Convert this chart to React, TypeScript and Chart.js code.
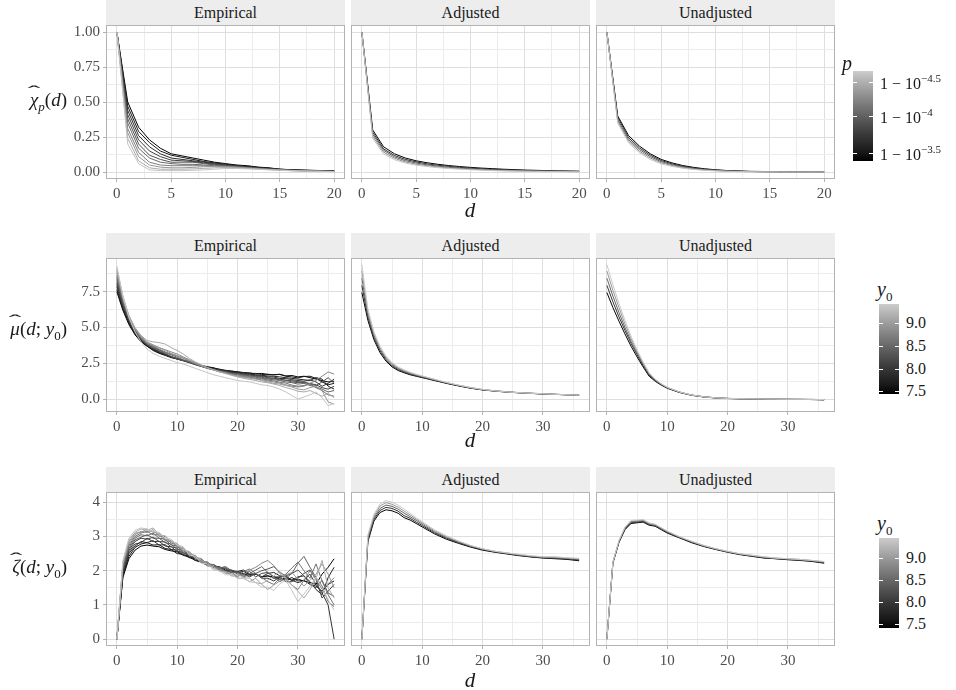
import React, { useEffect, useRef } from "react";
import { Chart, registerables } from "chart.js";
Chart.register(...registerables);

const FONT = '"Liberation Serif", "DejaVu Serif", serif';

// ---------- x values ----------
const dChi = [0, 1, 2, 3, 4, 5, 6, 7, 8, 9, 10, 11, 12, 13, 14, 15, 16, 17, 18, 19, 20];
const dFull = [0, 1, 2, 3, 4, 5, 6, 7, 8, 9, 10, 11, 12, 13, 14, 15, 16, 17, 18, 19, 20, 21, 22, 23, 24, 25, 26, 27, 28, 29, 30, 31, 32, 33, 34, 35, 36];
const dSparse = [0, 1, 2, 3, 4, 5, 6, 7, 8, 9, 10, 12, 14, 16, 18, 20, 22, 24, 26, 28, 30, 32, 34, 36];

// ---------- colour levels ----------
// -log10(1 - p) for the chi rows, y0 for the mu / zeta rows
const chiLevelsEmp = [3.4, 3.53, 3.66, 3.8, 3.93, 4.06, 4.2, 4.33, 4.46, 4.6];
const chiLevelsFit = [3.4, 3.7, 4.0, 4.3, 4.6];
const y0LevelsEmp = [7.45, 7.6, 7.8, 7.95, 8.1, 8.3, 8.45, 8.6, 8.8, 8.95, 9.1, 9.35];
const y0LevelsFit = [7.45, 7.95, 8.45, 8.95, 9.4];
const chiRange = [3.39, 4.65];
const y0Range = [7.43, 9.42];

// ---------- row 1: chi_p(d) ----------
const chiEmpirical = [
  [1, 0.5, 0.32, 0.23, 0.17, 0.13, 0.115, 0.1, 0.085, 0.07, 0.06, 0.05, 0.045, 0.035, 0.03, 0.02, 0.017, 0.014, 0.012, 0.01, 0.008],
  [1, 0.47, 0.29, 0.21, 0.15, 0.12, 0.105, 0.09, 0.075, 0.065, 0.055, 0.048, 0.04, 0.033, 0.027, 0.02, 0.016, 0.013, 0.011, 0.009, 0.007],
  [1, 0.44, 0.26, 0.18, 0.13, 0.1, 0.09, 0.08, 0.07, 0.06, 0.05, 0.045, 0.038, 0.03, 0.025, 0.019, 0.015, 0.012, 0.01, 0.008, 0.006],
  [1, 0.41, 0.23, 0.15, 0.11, 0.085, 0.08, 0.075, 0.065, 0.055, 0.047, 0.042, 0.035, 0.028, 0.023, 0.018, 0.014, 0.011, 0.009, 0.007, 0.005],
  [1, 0.38, 0.2, 0.12, 0.09, 0.07, 0.07, 0.07, 0.06, 0.05, 0.045, 0.04, 0.033, 0.026, 0.021, 0.017, 0.013, 0.01, 0.008, 0.006, 0.005],
  [1, 0.35, 0.17, 0.1, 0.07, 0.06, 0.055, 0.055, 0.05, 0.045, 0.042, 0.037, 0.031, 0.025, 0.02, 0.016, 0.012, 0.01, 0.008, 0.006, 0.004],
  [1, 0.31, 0.14, 0.07, 0.05, 0.045, 0.045, 0.045, 0.045, 0.042, 0.04, 0.035, 0.03, 0.024, 0.019, 0.015, 0.011, 0.009, 0.007, 0.005, 0.004],
  [1, 0.28, 0.11, 0.05, 0.035, 0.03, 0.03, 0.033, 0.038, 0.04, 0.038, 0.033, 0.028, 0.022, 0.018, 0.014, 0.01, 0.008, 0.006, 0.005, 0.003],
  [1, 0.24, 0.08, 0.03, 0.02, 0.02, 0.02, 0.022, 0.026, 0.03, 0.032, 0.03, 0.026, 0.021, 0.017, 0.013, 0.01, 0.007, 0.006, 0.004, 0.003],
  [1, 0.2, 0.06, 0.015, 0.01, 0.01, 0.01, 0.012, 0.015, 0.02, 0.025, 0.025, 0.022, 0.019, 0.015, 0.012, 0.009, 0.007, 0.005, 0.004, 0.003],
];
const chiAdjusted = [
  [1, 0.3, 0.18, 0.13, 0.1, 0.08, 0.066, 0.055, 0.046, 0.039, 0.033, 0.028, 0.024, 0.02, 0.017, 0.014, 0.012, 0.01, 0.008, 0.007, 0.006],
  [1, 0.285, 0.165, 0.118, 0.09, 0.072, 0.058, 0.048, 0.04, 0.033, 0.028, 0.023, 0.019, 0.016, 0.013, 0.011, 0.009, 0.008, 0.006, 0.005, 0.004],
  [1, 0.27, 0.155, 0.108, 0.081, 0.064, 0.051, 0.042, 0.034, 0.028, 0.023, 0.019, 0.016, 0.013, 0.011, 0.009, 0.007, 0.006, 0.005, 0.004, 0.003],
  [1, 0.255, 0.142, 0.098, 0.072, 0.056, 0.045, 0.036, 0.029, 0.024, 0.019, 0.016, 0.013, 0.01, 0.008, 0.007, 0.006, 0.005, 0.004, 0.003, 0.002],
  [1, 0.24, 0.13, 0.088, 0.064, 0.049, 0.039, 0.031, 0.025, 0.02, 0.016, 0.013, 0.01, 0.008, 0.007, 0.005, 0.004, 0.003, 0.003, 0.002, 0.002],
];
const chiUnadjusted = [
  [1, 0.4, 0.26, 0.185, 0.13, 0.09, 0.065, 0.046, 0.033, 0.023, 0.016, 0.011, 0.008, 0.005, 0.004, 0.003, 0.002, 0.001, 0.001, 0.001, 0.001],
  [1, 0.39, 0.245, 0.172, 0.12, 0.082, 0.058, 0.041, 0.029, 0.02, 0.014, 0.009, 0.006, 0.004, 0.003, 0.002, 0.001, 0.001, 0.001, 0.001, 0],
  [1, 0.375, 0.232, 0.16, 0.11, 0.074, 0.052, 0.036, 0.025, 0.017, 0.012, 0.008, 0.005, 0.004, 0.002, 0.002, 0.001, 0.001, 0, 0, 0],
  [1, 0.362, 0.22, 0.148, 0.1, 0.066, 0.046, 0.031, 0.021, 0.014, 0.01, 0.006, 0.004, 0.003, 0.002, 0.001, 0.001, 0, 0, 0, 0],
  [1, 0.35, 0.208, 0.137, 0.09, 0.058, 0.04, 0.027, 0.018, 0.012, 0.008, 0.005, 0.003, 0.002, 0.001, 0.001, 0, 0, 0, 0, 0],
];

// ---------- row 2: mu(d; y0) ----------
const muEmpirical = [
  [7.5, 6.2, 5.2, 4.5, 4.0, 3.7, 3.4, 3.2, 3.05, 2.9, 2.8, 2.7, 2.6, 2.45, 2.35, 2.25, 2.2, 2.05, 2.02, 1.92, 1.92, 1.84, 1.84, 1.76, 1.8, 1.72, 1.7, 1.74, 1.62, 1.65, 1.55, 1.6, 1.5, 1.4, 1.3, 1.2, 1.25],
  [7.65, 6.3, 5.3, 4.55, 4.05, 3.7, 3.45, 3.25, 3.1, 2.95, 2.85, 2.72, 2.6, 2.48, 2.36, 2.26, 2.16, 2.1, 1.98, 1.98, 1.88, 1.86, 1.78, 1.8, 1.72, 1.74, 1.7, 1.72, 1.6, 1.55, 1.48, 1.58, 1.6, 1.45, 1.2, 1.0, 1.1],
  [7.85, 6.4, 5.35, 4.6, 4.1, 3.75, 3.5, 3.3, 3.12, 2.95, 2.82, 2.7, 2.58, 2.45, 2.33, 2.22, 2.12, 2.04, 1.97, 1.9, 1.85, 1.8, 1.75, 1.7, 1.66, 1.62, 1.6, 1.55, 1.5, 1.45, 1.4, 1.35, 1.3, 1.5, 1.4, 0.9, 0.7],
  [8.0, 6.5, 5.45, 4.65, 4.12, 3.78, 3.52, 3.3, 3.1, 2.93, 2.8, 2.68, 2.55, 2.42, 2.3, 2.2, 2.12, 2.0, 1.98, 1.86, 1.84, 1.76, 1.74, 1.64, 1.62, 1.56, 1.54, 1.44, 1.44, 1.36, 1.3, 1.25, 1.35, 1.2, 0.9, 1.1, 1.4],
  [8.15, 6.6, 5.5, 4.7, 4.15, 3.8, 3.55, 3.35, 3.15, 2.95, 2.8, 2.68, 2.55, 2.4, 2.28, 2.18, 2.08, 2.0, 1.92, 1.85, 1.78, 1.72, 1.68, 1.62, 1.58, 1.5, 1.45, 1.4, 1.32, 1.28, 1.22, 1.15, 1.1, 1.0, 0.8, 0.7, 0.9],
  [8.35, 6.7, 5.6, 4.75, 4.2, 3.82, 3.6, 3.4, 3.2, 3.0, 2.82, 2.7, 2.58, 2.42, 2.28, 2.16, 2.08, 1.96, 1.92, 1.8, 1.78, 1.68, 1.64, 1.56, 1.52, 1.42, 1.42, 1.34, 1.32, 1.2, 1.15, 1.2, 1.05, 0.95, 1.2, 1.5, 1.1],
  [8.5, 6.8, 5.65, 4.8, 4.25, 3.85, 3.65, 3.45, 3.25, 3.1, 2.92, 2.75, 2.6, 2.45, 2.3, 2.15, 2.05, 1.95, 1.85, 1.78, 1.72, 1.65, 1.58, 1.52, 1.45, 1.4, 1.35, 1.3, 1.2, 1.15, 1.05, 1.1, 0.95, 0.85, 0.7, 0.5, 0.6],
  [8.65, 6.9, 5.7, 4.85, 4.3, 3.9, 3.7, 3.5, 3.3, 3.15, 3.0, 2.85, 2.65, 2.48, 2.3, 2.15, 2.04, 1.9, 1.84, 1.72, 1.7, 1.58, 1.54, 1.43, 1.42, 1.33, 1.27, 1.18, 1.12, 0.98, 0.9, 0.95, 1.05, 0.8, 0.6, 0.3, 0.2],
  [8.85, 7.0, 5.75, 4.9, 4.35, 3.95, 3.75, 3.6, 3.45, 3.3, 3.15, 2.95, 2.75, 2.55, 2.35, 2.2, 2.05, 1.92, 1.82, 1.72, 1.62, 1.55, 1.5, 1.42, 1.35, 1.28, 1.2, 1.12, 1.0, 0.9, 0.85, 0.9, 1.1, 1.3, 1.6, 1.9, 1.75],
  [9.0, 7.1, 5.8, 4.95, 4.4, 4.0, 3.8, 3.6, 3.4, 3.2, 3.05, 2.9, 2.7, 2.5, 2.32, 2.18, 2.05, 1.94, 1.82, 1.7, 1.6, 1.5, 1.45, 1.4, 1.3, 1.2, 1.1, 1.05, 0.95, 0.85, 0.7, 0.65, 0.8, 0.9, 0.6, -0.2, -0.35],
  [9.15, 7.2, 5.85, 5.0, 4.45, 4.1, 4.0, 3.95, 3.85, 3.6, 3.4, 3.15, 2.85, 2.6, 2.4, 2.2, 2.05, 1.9, 1.78, 1.66, 1.55, 1.45, 1.38, 1.3, 1.2, 1.15, 1.05, 0.95, 0.8, 0.7, 0.55, 0.5, 0.6, 0.4, 0.2, 0.4, 0.1],
  [9.3, 7.2, 5.7, 4.7, 4.0, 3.5, 3.2, 3.0, 2.85, 2.7, 2.55, 2.45, 2.3, 2.15, 2.0, 1.85, 1.7, 1.6, 1.5, 1.4, 1.3, 1.25, 1.2, 1.1, 1.0, 0.95, 0.85, 0.7, 0.5, 0.25, 0.0, 0.15, 0.3, 0.5, 0.1, -0.45, -0.3],
];
const muAdjusted = [
  [7.45, 5.5, 4.15, 3.25, 2.65, 2.25, 2.0, 1.84, 1.7, 1.6, 1.5, 1.3, 1.1, 0.92, 0.76, 0.64, 0.56, 0.49, 0.44, 0.4, 0.36, 0.33, 0.3, 0.27],
  [7.95, 5.7, 4.3, 3.37, 2.75, 2.33, 2.06, 1.89, 1.74, 1.63, 1.53, 1.32, 1.12, 0.94, 0.78, 0.65, 0.57, 0.5, 0.45, 0.4, 0.36, 0.33, 0.3, 0.27],
  [8.45, 5.9, 4.45, 3.48, 2.84, 2.41, 2.13, 1.94, 1.79, 1.67, 1.56, 1.35, 1.14, 0.96, 0.79, 0.66, 0.58, 0.51, 0.45, 0.41, 0.37, 0.34, 0.31, 0.28],
  [8.95, 6.1, 4.58, 3.6, 2.93, 2.48, 2.19, 2.0, 1.84, 1.71, 1.6, 1.38, 1.16, 0.97, 0.81, 0.67, 0.59, 0.52, 0.46, 0.42, 0.38, 0.34, 0.31, 0.28],
  [9.4, 6.3, 4.7, 3.7, 3.0, 2.55, 2.25, 2.05, 1.88, 1.74, 1.62, 1.39, 1.17, 0.98, 0.81, 0.68, 0.58, 0.5, 0.45, 0.41, 0.37, 0.34, 0.3, 0.28],
];
const muUnadjusted = [
  [7.45, 6.4, 5.45, 4.55, 3.7, 2.95, 2.25, 1.6, 1.25, 0.98, 0.76, 0.47, 0.27, 0.15, 0.08, 0.04, 0.02, 0.01, 0.0, -0.01, -0.02, -0.02, -0.03, -0.05],
  [7.95, 6.8, 5.75, 4.8, 3.9, 3.1, 2.35, 1.67, 1.29, 1.01, 0.78, 0.48, 0.28, 0.16, 0.09, 0.05, 0.03, 0.01, 0.0, -0.01, -0.01, -0.02, -0.03, -0.04],
  [8.45, 7.2, 6.05, 5.0, 4.05, 3.22, 2.44, 1.74, 1.33, 1.04, 0.8, 0.5, 0.29, 0.17, 0.09, 0.05, 0.03, 0.02, 0.01, 0.0, -0.01, -0.02, -0.02, -0.04],
  [8.95, 7.6, 6.4, 5.25, 4.25, 3.35, 2.53, 1.8, 1.37, 1.06, 0.82, 0.51, 0.29, 0.17, 0.1, 0.05, 0.03, 0.02, 0.01, 0.0, -0.01, -0.01, -0.02, -0.03],
  [9.4, 8.0, 6.7, 5.5, 4.4, 3.45, 2.6, 1.85, 1.4, 1.08, 0.83, 0.5, 0.29, 0.16, 0.09, 0.05, 0.03, 0.02, 0.01, 0.0, -0.01, -0.01, -0.02, -0.03],
];

// ---------- row 3: zeta(d; y0) ----------
const zetaEmpirical = [
  [0, 1.8, 2.35, 2.6, 2.72, 2.75, 2.72, 2.7, 2.62, 2.58, 2.55, 2.45, 2.4, 2.3, 2.25, 2.15, 2.12, 2.02, 2.0, 1.95, 1.97, 1.9, 1.88, 1.9, 1.82, 1.85, 1.82, 1.75, 1.78, 1.72, 1.75, 1.7, 1.65, 1.6, 1.9, 2.1, 2.35],
  [0, 1.85, 2.42, 2.68, 2.78, 2.82, 2.75, 2.76, 2.65, 2.62, 2.5, 2.48, 2.38, 2.35, 2.24, 2.22, 2.12, 2.12, 2.02, 2.02, 1.95, 1.98, 1.88, 1.9, 1.82, 1.85, 1.78, 1.8, 1.72, 1.8, 1.7, 1.72, 1.6, 1.55, 1.4, 1.6, 1.7],
  [0, 1.9, 2.5, 2.72, 2.85, 2.82, 2.88, 2.75, 2.76, 2.62, 2.6, 2.45, 2.44, 2.3, 2.28, 2.18, 2.18, 2.05, 2.06, 1.95, 1.98, 2.02, 1.9, 1.9, 1.82, 1.92, 1.95, 1.85, 1.82, 1.72, 1.82, 1.85, 1.68, 1.45, 1.3, 1.8, 2.1],
  [0, 1.95, 2.55, 2.78, 2.82, 2.95, 2.85, 2.86, 2.72, 2.7, 2.56, 2.54, 2.4, 2.38, 2.25, 2.24, 2.1, 2.1, 1.98, 2.0, 1.9, 1.92, 1.82, 1.92, 1.78, 1.78, 1.7, 1.82, 1.85, 1.72, 1.65, 1.72, 1.9, 1.6, 1.35, 1.0, 0.0],
  [0, 2.0, 2.6, 2.85, 2.95, 2.92, 2.98, 2.85, 2.84, 2.7, 2.66, 2.5, 2.48, 2.34, 2.32, 2.2, 2.18, 2.08, 2.08, 1.98, 1.98, 1.88, 1.98, 1.82, 1.92, 1.95, 1.82, 1.82, 1.68, 1.68, 1.78, 1.92, 2.02, 1.75, 1.2, 1.4, 1.6],
  [0, 2.05, 2.65, 2.9, 2.98, 3.05, 2.95, 2.95, 2.82, 2.78, 2.62, 2.6, 2.42, 2.42, 2.25, 2.24, 2.1, 2.08, 2.12, 2.0, 1.98, 1.85, 1.85, 1.92, 2.0, 2.05, 2.12, 1.95, 1.85, 1.92, 2.02, 1.85, 1.6, 1.5, 1.72, 1.35, 1.25],
  [0, 2.1, 2.7, 2.95, 3.05, 3.02, 3.1, 2.95, 2.92, 2.75, 2.72, 2.55, 2.52, 2.35, 2.32, 2.18, 2.18, 2.08, 2.08, 1.95, 1.95, 1.82, 1.92, 2.02, 2.12, 1.95, 1.82, 1.68, 1.78, 1.92, 2.22, 2.42, 2.1, 1.8, 1.55, 1.1, 0.95],
  [0, 2.15, 2.75, 3.0, 3.1, 3.15, 3.05, 3.05, 2.88, 2.85, 2.68, 2.65, 2.46, 2.44, 2.26, 2.26, 2.1, 2.1, 1.96, 1.96, 1.82, 1.98, 2.05, 1.92, 1.8, 1.68, 1.6, 1.78, 1.9, 2.08, 2.25, 2.0, 1.78, 2.2, 1.7, 1.3, 1.0],
  [0, 2.2, 2.8, 3.05, 3.15, 3.12, 3.2, 3.0, 3.0, 2.8, 2.78, 2.58, 2.56, 2.38, 2.36, 2.18, 2.16, 2.0, 1.98, 1.85, 1.84, 1.88, 2.02, 2.1, 2.22, 2.3, 2.15, 1.92, 1.75, 1.58, 1.45, 1.72, 2.0, 1.75, 1.45, 1.6, 1.8],
  [0, 2.2, 2.85, 3.1, 3.12, 3.22, 3.12, 3.1, 2.92, 2.88, 2.72, 2.68, 2.48, 2.45, 2.26, 2.25, 2.05, 2.05, 1.92, 1.92, 1.78, 1.78, 1.68, 1.78, 1.6, 1.45, 1.58, 1.7, 1.88, 1.95, 1.75, 1.55, 1.72, 1.9, 2.2, 1.9, 1.5],
  [0, 2.25, 2.9, 3.12, 3.22, 3.18, 3.25, 3.05, 3.02, 2.85, 2.8, 2.6, 2.56, 2.36, 2.32, 2.14, 2.12, 1.98, 1.98, 1.9, 1.9, 1.8, 1.78, 1.65, 1.62, 1.72, 1.85, 1.98, 1.8, 1.58, 1.4, 1.2, 1.45, 1.78, 2.3, 1.5, 1.2],
  [0, 2.3, 2.95, 3.18, 3.25, 3.22, 3.15, 3.12, 2.95, 2.92, 2.75, 2.7, 2.46, 2.42, 2.22, 2.2, 2.02, 2.0, 1.88, 1.88, 1.78, 1.78, 1.68, 1.65, 1.52, 1.52, 1.42, 1.62, 1.72, 1.42, 1.1, 1.32, 1.55, 1.82, 1.5, 1.15, 0.85],
];
const zetaAdjusted = [
  [0, 2.85, 3.45, 3.7, 3.78, 3.75, 3.68, 3.55, 3.48, 3.38, 3.28, 3.08, 2.92, 2.8, 2.69, 2.6, 2.54, 2.49, 2.44, 2.4, 2.37, 2.35, 2.33, 2.29],
  [0, 2.9, 3.5, 3.76, 3.85, 3.82, 3.74, 3.61, 3.53, 3.42, 3.32, 3.11, 2.95, 2.82, 2.71, 2.62, 2.55, 2.5, 2.45, 2.41, 2.38, 2.36, 2.35, 2.31],
  [0, 2.95, 3.55, 3.82, 3.92, 3.88, 3.8, 3.68, 3.58, 3.47, 3.36, 3.14, 2.97, 2.84, 2.72, 2.63, 2.56, 2.51, 2.46, 2.42, 2.39, 2.38, 2.36, 2.33],
  [0, 3.0, 3.6, 3.89, 3.99, 3.94, 3.86, 3.74, 3.63, 3.51, 3.4, 3.17, 3.0, 2.86, 2.73, 2.64, 2.57, 2.52, 2.47, 2.43, 2.4, 2.39, 2.37, 2.35],
  [0, 3.05, 3.65, 3.95, 4.05, 4.0, 3.92, 3.8, 3.68, 3.55, 3.43, 3.2, 3.02, 2.87, 2.74, 2.64, 2.57, 2.52, 2.48, 2.44, 2.41, 2.41, 2.38, 2.36],
];
const zetaUnadjusted = [
  [0, 2.22, 2.82, 3.2, 3.38, 3.4, 3.42, 3.33, 3.3, 3.2, 3.1, 2.96, 2.82, 2.71, 2.62, 2.54, 2.47, 2.42, 2.37, 2.35, 2.32, 2.3, 2.27, 2.22],
  [0, 2.23, 2.84, 3.22, 3.4, 3.42, 3.44, 3.35, 3.32, 3.22, 3.12, 2.97, 2.84, 2.72, 2.63, 2.55, 2.48, 2.43, 2.38, 2.35, 2.33, 2.31, 2.28, 2.23],
  [0, 2.24, 2.85, 3.24, 3.43, 3.44, 3.46, 3.37, 3.33, 3.23, 3.13, 2.98, 2.85, 2.73, 2.64, 2.56, 2.49, 2.44, 2.39, 2.36, 2.34, 2.32, 2.29, 2.25],
  [0, 2.25, 2.87, 3.26, 3.45, 3.46, 3.48, 3.38, 3.35, 3.25, 3.15, 2.99, 2.86, 2.74, 2.64, 2.56, 2.49, 2.45, 2.4, 2.37, 2.35, 2.33, 2.3, 2.26],
  [0, 2.26, 2.88, 3.28, 3.47, 3.48, 3.5, 3.4, 3.36, 3.26, 3.16, 3.0, 2.86, 2.74, 2.65, 2.57, 2.5, 2.45, 2.41, 2.37, 2.35, 2.33, 2.3, 2.27],
];

// ---------- ticks ----------
const xTicksChi = [0, 5, 10, 15, 20];
const xMinorChi = [2.5, 7.5, 12.5, 17.5];
const xTicksLong = [0, 10, 20, 30];
const xMinorLong = [5, 15, 25, 35];
const yTicksChi = [0, 0.25, 0.5, 0.75, 1];
const yMinorChi = [0.125, 0.375, 0.625, 0.875];
const yTicksMu = [0, 2.5, 5, 7.5];
const yMinorMu = [1.25, 3.75, 6.25, 8.75];
const yTicksZeta = [0, 1, 2, 3, 4];
const yMinorZeta = [0.5, 1.5, 2.5, 3.5];
const stripLabels = ["Empirical", "Adjusted", "Unadjusted"];

// ---------- colour helpers (black -> grey80 in L*) ----------
const HIGH_L = 82.04;
function grayFromT(t: number) {
  const L = Math.max(0, Math.min(1, t)) * HIGH_L;
  const Y = L > 8 ? Math.pow((L + 16) / 116, 3) : L / 903.3;
  const s = Y <= 0.0031308 ? 12.92 * Y : 1.055 * Math.pow(Y, 1 / 2.4) - 0.055;
  const g = Math.round(Math.max(0, Math.min(1, s)) * 255);
  return `rgb(${g},${g},${g})`;
}
function colorFor(v: number, range: number[]) {
  return grayFromT((v - range[0]) / (range[1] - range[0]));
}
function gradientCss() {
  const stops: string[] = [];
  for (let i = 0; i <= 10; i++) stops.push(`${grayFromT(1 - i / 10)} ${i * 10}%`);
  return `linear-gradient(to bottom, ${stops.join(", ")})`;
}

// ---------- geometry ----------
const COLS = [106, 351, 596];
const PW = 239;
const PH = 154;
const ROWS = [25, 258, 492];
const YW = 60, TP = 14, RP = 6, XH = 34;

const borderPlugin = {
  id: "panelBorder",
  afterDraw(chart: any) {
    const { ctx, chartArea } = chart;
    ctx.save();
    ctx.strokeStyle = "#b3b3b3";
    ctx.lineWidth = 1;
    ctx.strokeRect(chartArea.left + 0.5, chartArea.top + 0.5, chartArea.right - chartArea.left - 1, chartArea.bottom - chartArea.top - 1);
    ctx.restore();
  },
};

type PanelProps = {
  col: number;
  row: number;
  xs: number[];
  lines: number[][];
  levels: number[];
  range: number[];
  xMin: number; xMax: number; yMin: number; yMax: number;
  xMajor: number[]; xMinor: number[]; yMajor: number[]; yMinor: number[];
  yDigits: number;
};

function Panel(p: PanelProps) {
  const ref = useRef<HTMLCanvasElement>(null);
  const left = COLS[p.col] - YW;
  const top = ROWS[p.row] - TP;
  const W = YW + PW + RP;
  const H = TP + PH + XH;
  useEffect(() => {
    const xMaj = new Set(p.xMajor);
    const yMaj = new Set(p.yMajor);
    const showY = p.col === 0;
    const n = p.lines.length;
    const datasets = p.lines.map((ln, i) => ({
      data: p.xs.map((x, j) => ({ x, y: ln[j] })),
      borderColor: colorFor(p.levels[i], p.range),
      borderWidth: 1,
      pointRadius: 0,
      fill: false,
      tension: 0,
      order: n - i,
    }));
    const chart = new Chart(ref.current as HTMLCanvasElement, {
      type: "line",
      data: { datasets } as any,
      options: {
        animation: false,
        responsive: false,
        events: [],
        layout: { padding: { top: TP, right: RP, left: 0, bottom: 0 } },
        plugins: { legend: { display: false }, tooltip: { enabled: false }, title: { display: false } },
        scales: {
          x: {
            type: "linear",
            min: p.xMin,
            max: p.xMax,
            afterBuildTicks: (s: any) => {
              s.ticks = [...p.xMajor, ...p.xMinor].sort((a, b) => a - b).map((v) => ({ value: v }));
            },
            afterFit: (s: any) => { s.height = XH; },
            border: { display: false },
            grid: {
              color: (c: any) => (xMaj.has(c.tick?.value) ? "#dedede" : "#ececec"),
              lineWidth: 1,
              tickColor: (c: any) => (xMaj.has(c.tick?.value) ? "#b3b3b3" : "rgba(0,0,0,0)"),
              tickLength: 3,
              drawTicks: true,
            },
            ticks: {
              autoSkip: false,
              maxRotation: 0,
              padding: 3,
              color: "#4d4d4d",
              font: { family: FONT, size: 15 },
              callback: (v: any) => (xMaj.has(v) ? String(v) : ""),
            },
          },
          y: {
            type: "linear",
            min: p.yMin,
            max: p.yMax,
            afterBuildTicks: (s: any) => {
              s.ticks = [...p.yMajor, ...p.yMinor].sort((a, b) => a - b).map((v) => ({ value: v }));
            },
            afterFit: (s: any) => { s.width = YW; },
            border: { display: false },
            grid: {
              color: (c: any) => (yMaj.has(c.tick?.value) ? "#dedede" : "#ececec"),
              lineWidth: 1,
              tickColor: (c: any) => (showY && yMaj.has(c.tick?.value) ? "#b3b3b3" : "rgba(0,0,0,0)"),
              tickLength: 3,
              drawTicks: true,
            },
            ticks: {
              display: showY,
              autoSkip: false,
              padding: 3,
              color: "#4d4d4d",
              font: { family: FONT, size: 15 },
              callback: (v: any) => (yMaj.has(v) ? Number(v).toFixed(p.yDigits) : ""),
            },
          },
        },
      } as any,
      plugins: [borderPlugin],
    });
    return () => chart.destroy();
  }, []);
  return (
    <canvas
      ref={ref}
      width={W}
      height={H}
      style={{ position: "absolute", left, top, width: W, height: H }}
    />
  );
}

function Hat({ ch }: { ch: string }) {
  return (
    <span style={{ position: "relative", display: "inline-block", fontStyle: "italic" }}>
      {ch}
      <span
        style={{
          position: "absolute",
          left: "50%",
          top: "-0.42em",
          transform: "translateX(-50%) scaleX(2.2)",
          fontStyle: "normal",
          fontSize: "0.9em",
        }}
      >
        ˆ
      </span>
    </span>
  );
}

function ColorBar({ top, left, labels }: { top: number; left: number; labels: { y: number; node: React.ReactNode }[] }) {
  const h = 90;
  const w = 20;
  return (
    <>
      <div style={{ position: "absolute", left, top, width: w, height: h, background: gradientCss() }} />
      {labels.map((l, i) => (
        <React.Fragment key={i}>
          <div style={{ position: "absolute", left, top: l.y, width: 4, height: 1, background: "#fff" }} />
          <div style={{ position: "absolute", left: left + w - 4, top: l.y, width: 4, height: 1, background: "#fff" }} />
          <div
            style={{
              position: "absolute",
              left: left + w + 7,
              top: l.y,
              transform: "translateY(-50%)",
              fontSize: 16,
              color: "#1a1a1a",
              whiteSpace: "nowrap",
              lineHeight: "18px",
            }}
          >
            {l.node}
          </div>
        </React.Fragment>
      ))}
    </>
  );
}

const pLabel = (e: string) => (
  <span>
    1 − 10<sup style={{ fontSize: 11, position: "relative", top: -1 }}>{e}</sup>
  </span>
);

export default function App() {
  const panels: PanelProps[] = [];
  const chiSets = [chiEmpirical, chiAdjusted, chiUnadjusted];
  const muSets = [muEmpirical, muAdjusted, muUnadjusted];
  const zetaSets = [zetaEmpirical, zetaAdjusted, zetaUnadjusted];
  for (let c = 0; c < 3; c++) {
    panels.push({
      col: c, row: 0, xs: dChi, lines: chiSets[c], levels: c === 0 ? chiLevelsEmp : chiLevelsFit, range: chiRange,
      xMin: -1, xMax: 21, yMin: -0.05, yMax: 1.05,
      xMajor: xTicksChi, xMinor: xMinorChi, yMajor: yTicksChi, yMinor: yMinorChi, yDigits: 2,
    });
    panels.push({
      col: c, row: 1, xs: c === 0 ? dFull : dSparse, lines: muSets[c], levels: c === 0 ? y0LevelsEmp : y0LevelsFit, range: y0Range,
      xMin: -1.8, xMax: 37.8, yMin: -0.9, yMax: 9.86,
      xMajor: xTicksLong, xMinor: xMinorLong, yMajor: yTicksMu, yMinor: yMinorMu, yDigits: 1,
    });
    panels.push({
      col: c, row: 2, xs: c === 0 ? dFull : dSparse, lines: zetaSets[c], levels: c === 0 ? y0LevelsEmp : y0LevelsFit, range: y0Range,
      xMin: -1.8, xMax: 37.8, yMin: -0.2, yMax: 4.3,
      xMajor: xTicksLong, xMinor: xMinorLong, yMajor: yTicksZeta, yMinor: yMinorZeta, yDigits: 0,
    });
  }
  const y0Title = (
    <span style={{ fontStyle: "italic" }}>
      y<sub style={{ fontStyle: "normal", fontSize: 13 }}>0</sub>
    </span>
  );
  const y0Labels = (ys: number[]) =>
    ["9.0", "8.5", "8.0", "7.5"].map((t, i) => ({ y: ys[i], node: <span>{t}</span> }));

  return (
    <div
      style={{
        position: "absolute",
        left: 0,
        top: 0,
        width: 956,
        height: 690,
        background: "#ffffff",
        fontFamily: FONT,
        overflow: "hidden",
        color: "#1a1a1a",
      }}
    >
      {ROWS.map((ry, r) =>
        COLS.map((cx, c) => (
          <div
            key={`s${r}${c}`}
            style={{
              position: "absolute",
              left: cx,
              top: ry - 25,
              width: PW,
              height: 25,
              background: "#ededed",
              textAlign: "center",
              lineHeight: "25px",
              fontSize: 16,
              color: "#1a1a1a",
            }}
          >
            {stripLabels[c]}
          </div>
        ))
      )}
      {panels.map((p, i) => (
        <Panel key={i} {...p} />
      ))}
      {[210, 440, 680].map((y, i) => (
        <div
          key={`d${i}`}
          style={{ position: "absolute", left: 460, width: 20, top: y - 12, height: 24, lineHeight: "24px", textAlign: "center", fontStyle: "italic", fontSize: 21 }}
        >
          d
        </div>
      ))}
      {/* y titles */}
      <div style={{ position: "absolute", right: 956 - 67, top: 102, transform: "translateY(-50%)", fontSize: 19, whiteSpace: "nowrap" }}>
        <Hat ch="χ" />
        <sub style={{ fontStyle: "italic", fontSize: 13 }}>p</sub>(<i>d</i>)
      </div>
      <div style={{ position: "absolute", right: 956 - 67, top: 331, transform: "translateY(-50%)", fontSize: 19, whiteSpace: "nowrap" }}>
        <Hat ch="μ" />(<i>d</i>; <i>y</i>
        <sub style={{ fontSize: 13 }}>0</sub>)
      </div>
      <div style={{ position: "absolute", right: 956 - 67, top: 569, transform: "translateY(-50%)", fontSize: 19, whiteSpace: "nowrap" }}>
        <Hat ch="ζ" />(<i>d</i>; <i>y</i>
        <sub style={{ fontSize: 13 }}>0</sub>)
      </div>
      {/* legends */}
      <div style={{ position: "absolute", left: 842, top: 52, fontStyle: "italic", fontSize: 20 }}>p</div>
      <ColorBar
        top={71}
        left={853}
        labels={[
          { y: 82, node: pLabel("−4.5") },
          { y: 116, node: pLabel("−4") },
          { y: 153, node: pLabel("−3.5") },
        ]}
      />
      <div style={{ position: "absolute", left: 877, top: 278, fontSize: 20 }}>{y0Title}</div>
      <ColorBar top={304} left={879} labels={y0Labels([323, 346, 369, 391])} />
      <div style={{ position: "absolute", left: 877, top: 512, fontSize: 20 }}>{y0Title}</div>
      <ColorBar top={538} left={879} labels={y0Labels([558, 580, 602, 624])} />
    </div>
  );
}
